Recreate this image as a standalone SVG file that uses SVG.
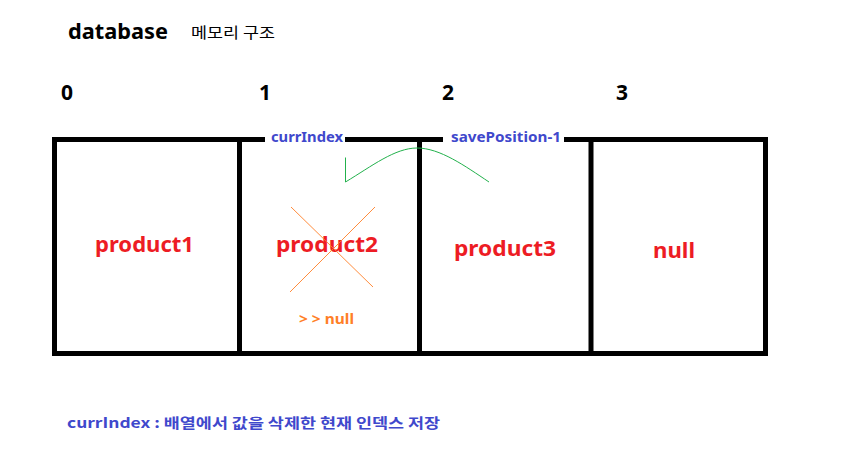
<svg xmlns="http://www.w3.org/2000/svg" width="845" height="476" viewBox="0 0 845 476">
<style>
  text { font-family: "Noto Sans", "Noto Sans CJK KR", sans-serif; }
  .title { font-size: 22px; font-weight: bold; fill: #000; }
  .sub { font-family: "Noto Sans CJK KR", sans-serif; font-size: 15px; fill: #000; }
  .idx { font-size: 21px; font-weight: bold; fill: #000; }
  .lbl { font-size: 14px; font-weight: bold; fill: #3f48cc; }
  .prod { font-size: 22px; font-weight: bold; fill: #ed1c24; }
  .nul { font-size: 14px; font-weight: bold; fill: #ff7f27; }
  .note { font-family: "Noto Sans CJK KR", sans-serif; font-size: 14px; font-weight: bold; fill: #3f48cc; }
  .box { fill: none; stroke: #000; stroke-width: 5; }
  .cross { stroke: #ff7f27; stroke-width: 0.9; }
</style>
<rect width="845" height="476" fill="#fff"/>
<g id="title">
  <text class="title" x="68" y="39" textLength="100" lengthAdjust="spacingAndGlyphs">database</text>
  <text class="sub" x="191" y="38" textLength="84" lengthAdjust="spacingAndGlyphs">메모리 구조</text>
</g>
<g id="indices">
  <text class="idx" x="61" y="100">0</text>
  <text class="idx" x="259" y="100">1</text>
  <text class="idx" x="442" y="100">2</text>
  <text class="idx" x="616" y="100">3</text>
</g>
<g id="array">
  <rect class="box" x="54.5" y="139.5" width="711" height="214"/>
  <line class="box" x1="239.5" y1="139.5" x2="239.5" y2="353.5"/>
  <line class="box" x1="419.5" y1="139.5" x2="419.5" y2="353.5"/>
  <line class="box" x1="591" y1="139.5" x2="591" y2="353.5"/>
  <rect x="265" y="134" width="80" height="12" fill="#fff"/>
  <rect x="443" y="134" width="121" height="12" fill="#fff"/>
</g>
<g id="cell0"><text class="prod" x="95" y="252" textLength="99" lengthAdjust="spacingAndGlyphs">product1</text></g>
<g id="cell1">
  <text class="prod" x="276" y="252" textLength="102" lengthAdjust="spacingAndGlyphs">product2</text>
  <line class="cross" x1="291" y1="207" x2="373" y2="287"/>
  <line class="cross" x1="375" y1="207" x2="290" y2="292"/>
  <text class="nul" x="299" y="324" textLength="55" lengthAdjust="spacingAndGlyphs">&gt; &gt; null</text>
</g>
<g id="cell2"><text class="prod" x="454" y="256" textLength="102" lengthAdjust="spacingAndGlyphs">product3</text></g>
<g id="cell3"><text class="prod" x="653" y="258" textLength="42" lengthAdjust="spacingAndGlyphs">null</text></g>
<g id="labels">
  <text class="lbl" x="271" y="142" textLength="72" lengthAdjust="spacingAndGlyphs">currIndex</text>
  <text class="lbl" x="451" y="142" textLength="110" lengthAdjust="spacingAndGlyphs">savePosition-1</text>
</g>
<g id="connectors">
  <path d="M345.5,157.5 L345.5,182 C372,166 395,148 417,148 C440,148 465,166 489,182" fill="none" stroke="#22b14c" stroke-width="1"/>
</g>
<g id="note">
  <text class="note" x="67" y="428" textLength="373" lengthAdjust="spacingAndGlyphs">currIndex : 배열에서 값을 삭제한 현재 인덱스 저장</text>
</g>
</svg>
